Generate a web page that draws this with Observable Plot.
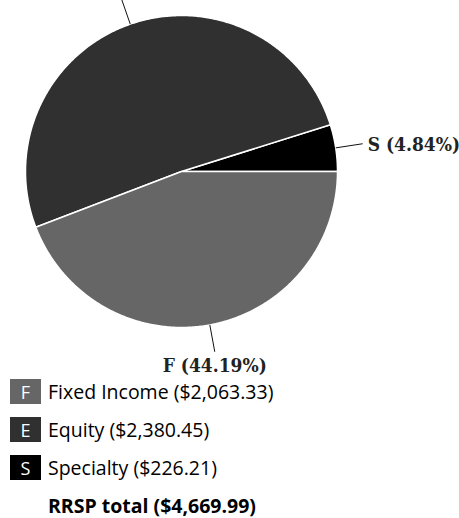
<!DOCTYPE html>
<html>
<head>
<meta charset="utf-8">
<script src="https://cdn.jsdelivr.net/npm/d3@7"></script>
<script src="https://cdn.jsdelivr.net/npm/@observablehq/plot@0.6"></script>
<style>
  html, body { margin: 0; padding: 0; background: white; }
  #chart svg { display: block; }
  .legend { font-family: "Open Sans", sans-serif; font-size: 19.5px; color: #000; }
  .row { display: flex; align-items: center; height: 25px; margin-bottom: 13px; }
  .sw { width: 31px; height: 25px; margin-left: 10px; margin-right: 7px; color: white;
        display: flex; align-items: center; justify-content: center; font-size: 18px; }
  .total { margin-left: 48px; font-weight: bold; }
</style>
</head>
<body>
<div id="chart"></div>
<div class="legend" id="legend"></div>
<script>
// Data
const categories = ["F", "E", "S"];
const names = ["Fixed Income", "Equity", "Specialty"];
const amounts = [2063.33, 2380.45, 226.21];
const percents = [44.19, 50.97, 4.84];
const totalLabel = "RRSP total ($4,669.99)";
const pieOrder = ["S", "E", "F"]; // counter-clockwise from 3 o'clock
const palette = ["#666666", "#303030", "#000000"];

// Build slice polygons from the values
const total = d3.sum(percents);
const slices = [];
let acc = 0;
for (const key of pieOrder) {
  const i = categories.indexOf(key);
  const a0 = acc / total * 2 * Math.PI;
  acc += percents[i];
  const a1 = acc / total * 2 * Math.PI;
  slices.push({key, i, a0, a1, mid: (a0 + a1) / 2});
}
const points = [];
for (const s of slices) {
  points.push({key: s.key, x: 0, y: 0});
  const n = Math.max(2, Math.ceil((s.a1 - s.a0) / 0.01));
  for (let k = 0; k <= n; k++) {
    const a = s.a0 + (s.a1 - s.a0) * k / n;
    points.push({key: s.key, x: Math.cos(a), y: Math.sin(a)});
  }
  points.push({key: s.key, x: 0, y: 0});
}
const rIn = 1.0, rOut = 1.175;
const labels = slices.map(s => ({
  key: s.key,
  text: `${s.key} (${percents[s.i].toFixed(2)}%)`,
  x1: rIn * Math.cos(s.mid), y1: rIn * Math.sin(s.mid),
  x2: rOut * Math.cos(s.mid), y2: rOut * Math.sin(s.mid),
  side: Math.abs(Math.cos(s.mid)) > 0.5 ? (Math.cos(s.mid) > 0 ? "right" : "left") : (Math.sin(s.mid) > 0 ? "top" : "bottom")
}));

const labelFont = {fontFamily: "'DejaVu Serif Condensed', 'DejaVu Serif'", fontWeight: "bold", fontSize: 19, fill: "#222"};

const plot = Plot.plot({
  width: 459,
  height: 379,
  margin: 0,
  x: {domain: [-1, 1], range: [25, 337], axis: null},
  y: {domain: [-1, 1], range: [327, 15], axis: null},
  color: {domain: categories, range: palette},
  marks: [
    Plot.line(points, {x: "x", y: "y", z: "key", fill: "key", stroke: "white", strokeWidth: 1.5, curve: "linear"}),
    Plot.link(labels, {x1: "x1", y1: "y1", x2: "x2", y2: "y2", stroke: "#111", strokeWidth: 1}),
    Plot.text(labels.filter(d => d.side === "right"), {x: "x2", y: "y2", text: "text", textAnchor: "start", dx: 5, dy: 1, ...labelFont}),
    Plot.text(labels.filter(d => d.side === "left"), {x: "x2", y: "y2", text: "text", textAnchor: "end", dx: -5, dy: 1, ...labelFont}),
    Plot.text(labels.filter(d => d.side === "bottom"), {x: "x2", y: "y2", text: "text", lineAnchor: "top", dy: 7, ...labelFont}),
    Plot.text(labels.filter(d => d.side === "top"), {x: "x2", y: "y2", text: "text", lineAnchor: "bottom", dy: -3, ...labelFont})
  ]
});
document.getElementById("chart").appendChild(plot);

// Legend
const fmt = d3.format(",.2f");
const legend = document.getElementById("legend");
categories.forEach((c, i) => {
  const row = document.createElement("div");
  row.className = "row";
  const sw = document.createElement("div");
  sw.className = "sw";
  sw.style.background = palette[i];
  sw.textContent = c;
  const t = document.createElement("span");
  t.textContent = `${names[i]} ($${fmt(amounts[i])})`;
  row.appendChild(sw);
  row.appendChild(t);
  legend.appendChild(row);
});
const tot = document.createElement("div");
tot.className = "row total";
tot.textContent = totalLabel;
legend.appendChild(tot);
</script>
</body>
</html>
